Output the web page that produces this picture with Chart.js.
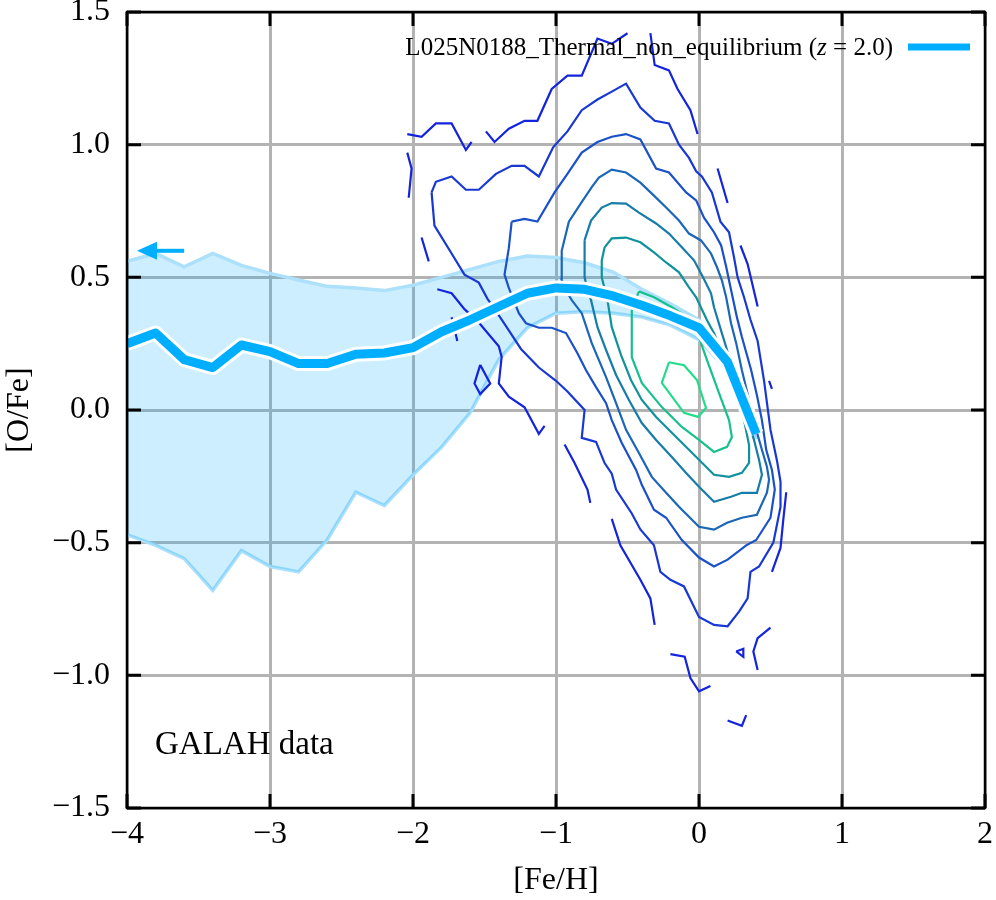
<!DOCTYPE html>
<html><head><meta charset="utf-8">
<script src="https://cdn.jsdelivr.net/npm/chart.js@4.4.1/dist/chart.umd.min.js"></script>
<style>html,body{margin:0;padding:0;background:#fff;}canvas{display:block;}</style>
</head><body>
<canvas id="c" width="996" height="900"></canvas>
<script>
// ---- data ----
const feH       = [-4.0,-3.8,-3.6,-3.4,-3.2,-3.0,-2.8,-2.6,-2.4,-2.2,-2.0,-1.8,-1.6,-1.4,-1.2,-1.0,-0.8,-0.6,-0.4,-0.2,0.0,0.2,0.4];
const medianOFe = [0.25,0.29,0.19,0.16,0.245,0.22,0.175,0.175,0.21,0.215,0.235,0.295,0.34,0.39,0.44,0.46,0.455,0.43,0.395,0.355,0.31,0.18,-0.09];
const upperOFe  = [0.56,0.59,0.54,0.59,0.545,0.515,0.49,0.466,0.46,0.45,0.47,0.50,0.53,0.56,0.58,0.575,0.555,0.52,0.455,0.40,0.34,0.21,-0.06];
const lowerOFe  = [-0.47,-0.51,-0.56,-0.68,-0.53,-0.59,-0.61,-0.49,-0.31,-0.36,-0.245,-0.14,-0.01,0.19,0.31,0.365,0.37,0.365,0.35,0.32,0.265,0.15,-0.11];

const xTickValues = [-4,-3,-2,-1,0,1,2];
const xTickLabels = ['\u22124','\u22123','\u22122','\u22121','0','1','2'];
const yTickValues = [-1.5,-1.0,-0.5,0.0,0.5,1.0,1.5];
const yTickLabels = ['\u22121.5','\u22121.0','\u22120.5','0.0','0.5','1.0','1.5'];

const legendLabel = 'L025N0188_Thermal_non_equilibrium';
const redshiftLabel = '2.0';
const dataLabel = 'GALAH data';
const arrowFeH = [-3.60, -3.93];
const arrowOFe = 0.60;

// GALAH density contours, outermost (level 1) to innermost (level 8)
const contourLevel1 = [
 [[-2.04,1.04],[-1.94,1.03],[-1.84,1.08],[-1.73,1.08],[-1.63,0.98],[-1.59,1.01]],
 [[-1.49,1.05],[-1.43,1.01],[-1.33,1.06],[-1.22,1.09],[-1.13,1.09],[-1.03,1.21],[-0.92,1.26],[-0.82,1.26],[-0.71,1.40],[-0.61,1.38],[-0.50,1.42]],
 [[-0.34,1.42],[-0.31,1.30],[-0.21,1.28],[-0.15,1.21],[-0.06,1.13],[-0.01,1.04]],
 [[-2.04,0.97],[-2.01,0.91],[-2.03,0.80]],
 [[-1.94,0.65],[-1.89,0.56]],
 [[0.13,0.91],[0.20,0.78]],
 [[0.29,0.62],[0.34,0.55],[0.41,0.39]],
 [[0.49,0.11],[0.51,0.08]],
 [[0.61,-0.31],[0.59,-0.41],[0.57,-0.52],[0.51,-0.61]],
 [[0.50,-0.82],[0.41,-0.86],[0.38,-0.91],[0.41,-0.98]],
 [[0.26,-0.91],[0.31,-0.90],[0.31,-0.93],[0.26,-0.91]],
 [[-0.20,-0.92],[-0.10,-0.93],[-0.06,-1.01],[0.00,-1.06],[0.08,-1.04]],
 [[0.20,-1.17],[0.30,-1.19],[0.33,-1.15]],
 [[-1.83,0.455],[-1.73,0.44],[-1.64,0.38],[-1.54,0.33],[-1.40,0.24],[-1.38,0.20],[-1.40,0.10],[-1.33,0.05],[-1.22,0.01],[-1.12,-0.09],[-1.08,-0.06]],
 [[-1.73,0.35],[-1.69,0.26]],
 [[-1.53,0.17],[-1.46,0.10],[-1.53,0.06],[-1.57,0.10],[-1.53,0.17]],
 [[-0.94,-0.13],[-0.87,-0.20],[-0.78,-0.30],[-0.76,-0.35]],
 [[-0.61,-0.41],[-0.55,-0.51],[-0.41,-0.64],[-0.34,-0.71],[-0.31,-0.81]]
];
const contourLevel2 = [
 [[-1.87,0.82],[-1.84,0.86],[-1.73,0.88],[-1.63,0.83],[-1.54,0.83],[-1.42,0.89],[-1.31,0.92],[-1.22,0.92],[-1.12,0.88],[-1.02,0.99],[-0.92,1.05],[-0.82,1.13],[-0.71,1.17],[-0.61,1.20],[-0.51,1.23],[-0.41,1.14],[-0.31,1.09],[-0.21,1.08],[-0.14,1.00],[-0.07,0.95],[-0.02,0.90],[0.02,0.88],[0.09,0.82],[0.15,0.71],[0.21,0.67],[0.245,0.575],[0.27,0.50],[0.315,0.425],[0.36,0.34],[0.41,0.26],[0.455,0.11],[0.50,-0.075],[0.545,-0.19],[0.57,-0.27],[0.57,-0.365],[0.52,-0.50],[0.42,-0.59],[0.36,-0.61],[0.34,-0.71],[0.28,-0.76],[0.20,-0.815],[0.105,-0.81],[0.0,-0.78],[-0.105,-0.665],[-0.20,-0.64],[-0.27,-0.61],[-0.315,-0.51],[-0.41,-0.45],[-0.47,-0.39],[-0.58,-0.30],[-0.61,-0.24],[-0.66,-0.20],[-0.72,-0.12],[-0.82,-0.105],[-0.80,0.0],[-0.92,0.07],[-1.0,0.11],[-1.12,0.16],[-1.245,0.23],[-1.33,0.30],[-1.41,0.365],[-1.48,0.42],[-1.54,0.48],[-1.64,0.51],[-1.73,0.59],[-1.85,0.695],[-1.87,0.82]]
];
const contourLevel3 = [
 [[-1.31,0.71],[-1.22,0.72],[-1.13,0.71],[-1.01,0.82],[-0.92,0.89],[-0.82,0.97],[-0.71,1.01],[-0.61,1.03],[-0.51,1.04],[-0.41,1.02],[-0.30,0.91],[-0.21,0.895],[-0.09,0.82],[-0.02,0.79],[0.035,0.725],[0.105,0.67],[0.155,0.62],[0.19,0.54],[0.225,0.45],[0.265,0.35],[0.30,0.275],[0.365,0.15],[0.405,0.056],[0.44,-0.038],[0.47,-0.15],[0.51,-0.226],[0.53,-0.30],[0.50,-0.406],[0.40,-0.49],[0.33,-0.51],[0.20,-0.564],[0.105,-0.59],[0.0,-0.556],[-0.12,-0.49],[-0.23,-0.406],[-0.315,-0.376],[-0.40,-0.282],[-0.44,-0.226],[-0.54,-0.124],[-0.61,-0.038],[-0.65,0.026],[-0.72,0.086],[-0.79,0.15],[-0.85,0.214],[-0.93,0.29],[-1.03,0.31],[-1.12,0.31],[-1.21,0.327],[-1.26,0.365],[-1.33,0.46],[-1.36,0.51],[-1.33,0.61],[-1.31,0.71]]
];
const contourLevel4 = [
 [[-0.965,0.496],[-0.96,0.60],[-0.91,0.71],[-0.825,0.78],[-0.75,0.84],[-0.70,0.876],[-0.61,0.906],[-0.51,0.895],[-0.41,0.857],[-0.315,0.808],[-0.23,0.763],[-0.14,0.714],[-0.07,0.665],[0.014,0.639],[0.084,0.59],[0.126,0.538],[0.16,0.489],[0.19,0.425],[0.224,0.327],[0.26,0.252],[0.30,0.15],[0.35,0.038],[0.40,-0.075],[0.44,-0.15],[0.475,-0.214],[0.49,-0.263],[0.475,-0.312],[0.405,-0.395],[0.30,-0.406],[0.196,-0.425],[0.105,-0.451],[0.0,-0.44],[-0.14,-0.365],[-0.23,-0.312],[-0.33,-0.252],[-0.42,-0.162],[-0.51,-0.075],[-0.58,0.026],[-0.65,0.124],[-0.75,0.252],[-0.82,0.365],[-0.89,0.414],[-0.93,0.451],[-0.965,0.496]]
];
const contourLevel5 = [
 [[-0.80,0.64],[-0.755,0.714],[-0.68,0.763],[-0.61,0.78],[-0.51,0.778],[-0.42,0.744],[-0.30,0.703],[-0.21,0.665],[-0.12,0.613],[-0.035,0.564],[0.021,0.508],[0.084,0.44],[0.105,0.387],[0.154,0.30],[0.196,0.226],[0.231,0.15],[0.28,0.064],[0.33,-0.026],[0.385,-0.113],[0.42,-0.188],[0.44,-0.244],[0.405,-0.312],[0.30,-0.312],[0.224,-0.327],[0.105,-0.346],[0.0,-0.289],[-0.09,-0.237],[-0.19,-0.177],[-0.30,-0.113],[-0.40,-0.049],[-0.49,0.038],[-0.58,0.132],[-0.65,0.226],[-0.71,0.312],[-0.755,0.414],[-0.78,0.451],[-0.80,0.50],[-0.80,0.64]]
];
const contourLevel6 = [
 [[-0.66,0.613],[-0.61,0.647],[-0.51,0.65],[-0.41,0.632],[-0.315,0.594],[-0.23,0.556],[-0.14,0.519],[-0.07,0.462],[-0.02,0.425],[0.056,0.338],[0.105,0.289],[0.154,0.226],[0.21,0.15],[0.26,0.056],[0.315,-0.038],[0.35,-0.132],[0.35,-0.199],[0.30,-0.237],[0.21,-0.252],[0.105,-0.244],[0.021,-0.199],[-0.07,-0.15],[-0.19,-0.086],[-0.30,-0.026],[-0.40,0.038],[-0.476,0.113],[-0.545,0.207],[-0.61,0.312],[-0.64,0.414],[-0.68,0.50],[-0.68,0.564],[-0.66,0.613]]
];
const contourLevel7 = [
 [[-0.42,0.447],[-0.315,0.425],[-0.19,0.387],[-0.07,0.346],[0.0,0.274],[0.056,0.188],[0.14,0.064],[0.21,-0.038],[0.23,-0.102],[0.196,-0.139],[0.105,-0.158],[0.0,-0.113],[-0.12,-0.064],[-0.26,0.011],[-0.40,0.102],[-0.47,0.199],[-0.47,0.376],[-0.42,0.447]]
];
const contourLevel8 = [
 [[-0.21,0.18],[-0.105,0.169],[-0.014,0.113],[0.049,0.008],[-0.007,-0.026],[-0.105,-0.011],[-0.26,0.102],[-0.21,0.18]]
];
const contourLevels = [contourLevel1,contourLevel2,contourLevel3,contourLevel4,contourLevel5,contourLevel6,contourLevel7,contourLevel8];
const contourColors = ['#1424dc','#1838d4','#1a50c8','#1a66b8','#167ca8','#10929c','#18c08e','#22dc8a'];

// ---- styles ----
const MAIN = '#00aeff';
const SERIF = "'Liberation Serif', 'Times New Roman', serif";

const datasets = [];
const xy = (xs, ys) => xs.map((x, i) => ({x, y: ys[i]}));

// band (indices 0 and 1)
datasets.push({data: xy(feH, upperOFe), borderColor: '#ace0fb', borderWidth: 3.5, fill: 1,
  backgroundColor: 'rgba(0,170,255,0.2)', order: 30});
datasets.push({data: xy(feH, lowerOFe), borderColor: '#ace0fb', borderWidth: 3.5, fill: false, order: 30});

contourLevels.forEach((level, li) => {
  level.forEach(frag => {
    datasets.push({data: frag.map(([x, y]) => ({x, y})), borderColor: contourColors[li],
      borderWidth: 2.2, fill: false, order: 20 - li});
  });
});

datasets.push({data: xy(feH, medianOFe), borderColor: '#ffffff', borderWidth: 15, fill: false, order: 1,
  borderJoinStyle: 'round'});
datasets.push({data: xy(feH, medianOFe), borderColor: MAIN, borderWidth: 9, fill: false, order: 0,
  borderJoinStyle: 'round'});

const decoPlugin = {
  id: 'deco',
  afterDatasetsDraw(chart) {
    const {ctx, chartArea: a, scales: {x, y}} = chart;
    ctx.save();
    // arrow
    const ay = y.getPixelForValue(arrowOFe);
    const tail = x.getPixelForValue(arrowFeH[0]);
    const tip = x.getPixelForValue(arrowFeH[1]);
    ctx.strokeStyle = MAIN; ctx.fillStyle = MAIN; ctx.lineWidth = 4;
    ctx.beginPath(); ctx.moveTo(tail, ay); ctx.lineTo(tip + 16, ay); ctx.stroke();
    ctx.beginPath(); ctx.moveTo(tip, ay); ctx.lineTo(tip + 20, ay - 9); ctx.lineTo(tip + 20, ay + 9); ctx.closePath(); ctx.fill();
    // ticks (inward)
    ctx.strokeStyle = '#000'; ctx.lineWidth = 3;
    ctx.beginPath();
    xTickValues.forEach(v => {
      const px = x.getPixelForValue(v);
      ctx.moveTo(px, a.bottom); ctx.lineTo(px, a.bottom - 14);
      ctx.moveTo(px, a.top); ctx.lineTo(px, a.top + 14);
    });
    yTickValues.forEach(v => {
      const py = y.getPixelForValue(v);
      ctx.moveTo(a.left, py); ctx.lineTo(a.left + 14, py);
      ctx.moveTo(a.right, py); ctx.lineTo(a.right - 14, py);
    });
    ctx.stroke();
    ctx.lineWidth = 2.5;
    ctx.strokeRect(a.left, a.top, a.right - a.left, a.bottom - a.top);
    // legend
    ctx.fillStyle = '#000';
    ctx.textBaseline = 'middle';
    const ly = a.top + 36;
    const fN = '25px ' + SERIF, fI = 'italic 25px ' + SERIF;
    const p1 = legendLabel + ' (', p2 = 'z', p3 = ' = ' + redshiftLabel + ')';
    ctx.font = fN; const w1 = ctx.measureText(p1).width, w3 = ctx.measureText(p3).width;
    ctx.font = fI; const w2 = ctx.measureText(p2).width;
    const rightX = a.right - 92;
    let lx = rightX - (w1 + w2 + w3);
    ctx.textAlign = 'left';
    ctx.font = fN; ctx.fillText(p1, lx, ly); lx += w1;
    ctx.font = fI; ctx.fillText(p2, lx, ly); lx += w2;
    ctx.font = fN; ctx.fillText(p3, lx, ly);
    ctx.strokeStyle = MAIN; ctx.lineWidth = 7;
    ctx.beginPath(); ctx.moveTo(a.right - 77, ly - 1); ctx.lineTo(a.right - 15, ly - 1); ctx.stroke();
    // data label
    ctx.font = '33px ' + SERIF;
    ctx.fillStyle = '#000';
    ctx.fillText(dataLabel, a.left + 28, a.bottom - 63);
    ctx.restore();
  }
};

const tickFont = {family: SERIF, size: 32};
new Chart(document.getElementById('c'), {
  type: 'line',
  data: {datasets},
  plugins: [decoPlugin],
  options: {
    responsive: false, animation: false, devicePixelRatio: 1,
    layout: {padding: {top: 12, right: 11, left: 0, bottom: 0}},
    plugins: {legend: {display: false}, tooltip: {enabled: false}},
    elements: {point: {radius: 0, hitRadius: 0}, line: {tension: 0}},
    scales: {
      x: {
        type: 'linear', min: -4, max: 2,
        afterBuildTicks: s => { s.ticks = xTickValues.map(v => ({value: v})); },
        afterFit: s => { s.height = 92; s.paddingLeft = 0; s.paddingRight = 0; },
        grid: {color: '#b3b3b3', lineWidth: 3, drawTicks: false},
        border: {display: false},
        ticks: {padding: 7, color: '#000', font: tickFont, autoSkip: false, maxRotation: 0,
          callback: v => xTickLabels[xTickValues.findIndex(t => Math.abs(t - v) < 1e-9)]},
        title: {display: true, text: '[Fe/H]', color: '#000', font: tickFont, padding: {top: 0, bottom: 0}}
      },
      y: {
        type: 'linear', min: -1.5, max: 1.5,
        afterBuildTicks: s => { s.ticks = yTickValues.map(v => ({value: v})); },
        afterFit: s => { s.width = 127; s.paddingTop = 0; s.paddingBottom = 0; },
        grid: {color: '#b3b3b3', lineWidth: 3, drawTicks: false},
        border: {display: false},
        ticks: {padding: 17, color: '#000', font: tickFont, autoSkip: false,
          callback: v => yTickLabels[yTickValues.findIndex(t => Math.abs(t - v) < 1e-9)]},
        title: {display: true, text: '[O/Fe]', color: '#000', font: tickFont, padding: {top: 0, bottom: 0}}
      }
    }
  }
});
</script>
</body></html>
